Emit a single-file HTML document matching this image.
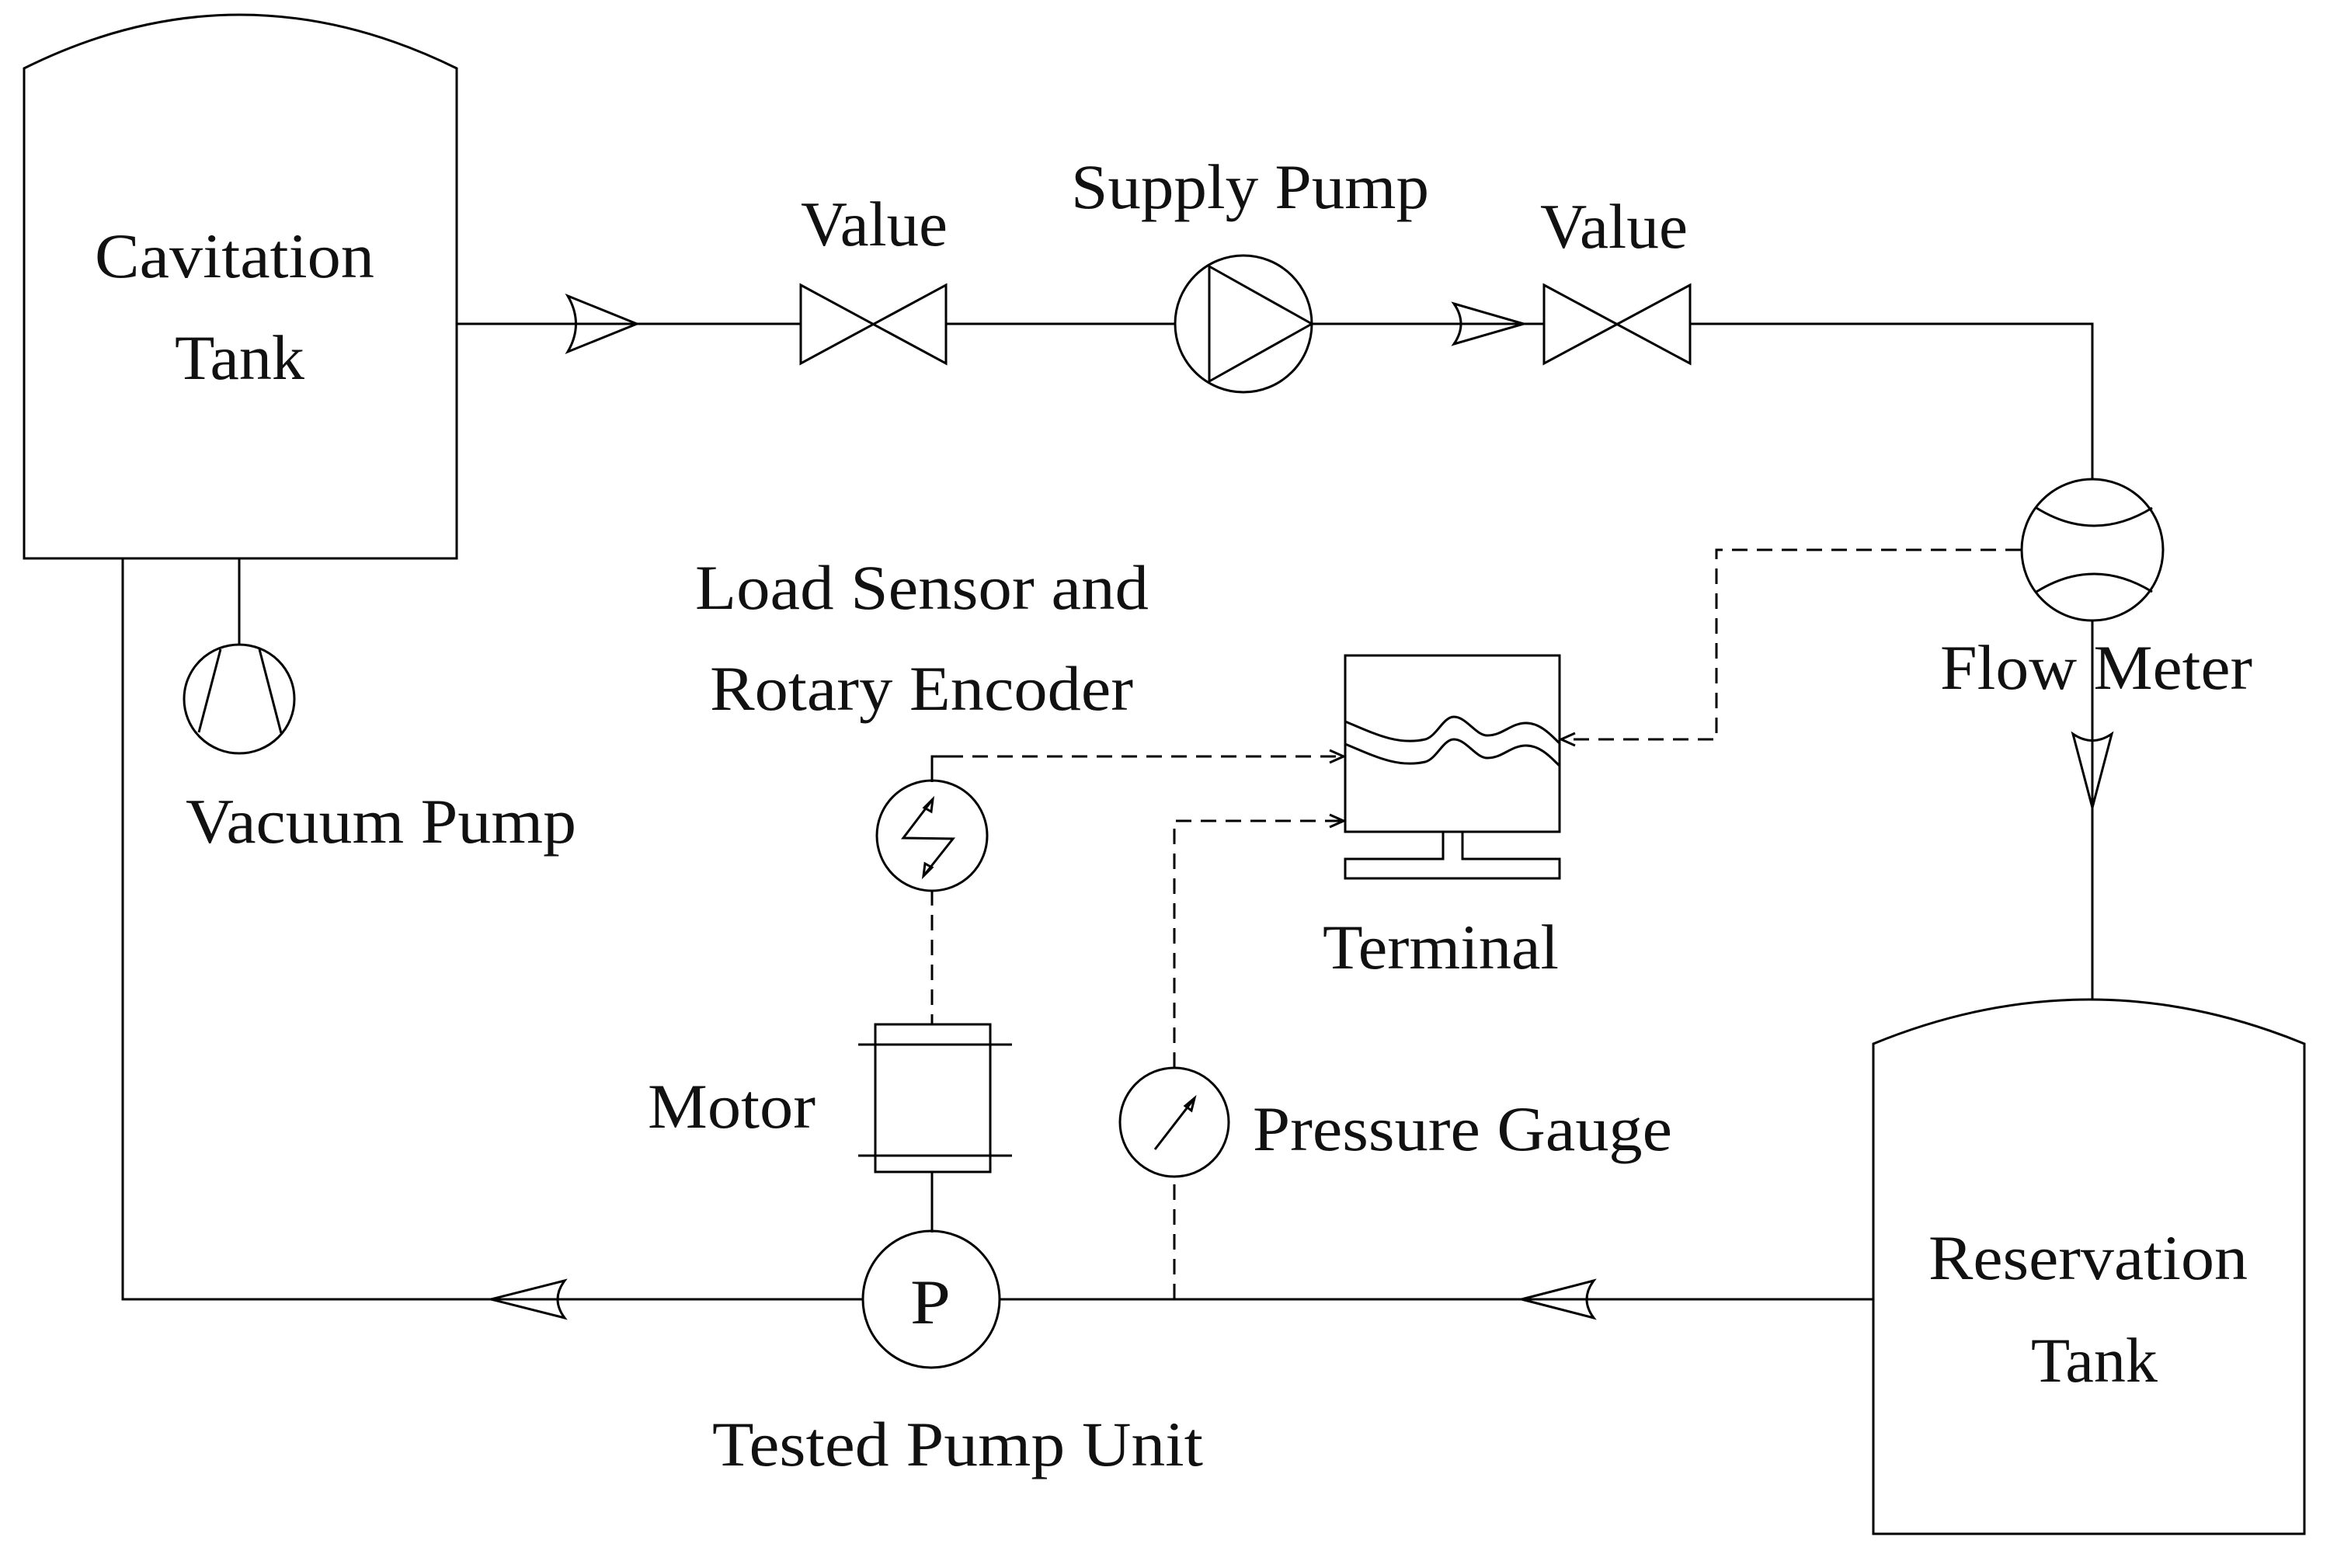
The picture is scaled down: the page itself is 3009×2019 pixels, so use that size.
<!DOCTYPE html>
<html><head><meta charset="utf-8"><style>
html,body{margin:0;padding:0;background:#fff}
svg{display:block}
text{font-family:"Liberation Serif",serif;fill:#111}
</style></head><body>
<svg width="3009" height="2019" viewBox="0 0 3009 2019" xmlns="http://www.w3.org/2000/svg">
<g fill="none" stroke="#000" stroke-width="3">
<!-- Cavitation tank -->
<path d="M31,719 L31,88 Q308,-50 588,88 L588,719 Z"/>
<!-- Vacuum pump -->
<line x1="308" y1="719" x2="308" y2="831"/>
<ellipse cx="308" cy="900" rx="71" ry="70"/>
<line x1="284" y1="836" x2="256" y2="943"/>
<line x1="334" y1="836" x2="362" y2="944"/>
<!-- left pipe & bottom pipe -->
<polyline points="158,719 158,1673 1110,1673"/>
<line x1="1287" y1="1673" x2="2412" y2="1673"/>
<!-- top pipe -->
<line x1="588" y1="417" x2="1031" y2="417"/>
<line x1="1218" y1="417" x2="1512" y2="417"/>
<line x1="1689" y1="417" x2="1988" y2="417"/>
<polyline points="2176,417 2694,417 2694,617"/>
<line x1="2694" y1="799" x2="2694" y2="1287"/>
<!-- arrows -->
<path d="M731,381 L820,417 L731,453 Q752,417 731,381 Z"/>
<path d="M1872,391 L1962,417 L1872,443 Q1890,417 1872,391 Z"/>
<path d="M2669,945 L2694,1040 L2719,945 Q2694,962 2669,945 Z"/>
<path d="M2052,1649 L1959,1673 L2052,1697 Q2034,1673 2052,1649 Z"/>
<path d="M727,1649 L632,1673 L727,1697 Q709,1673 727,1649 Z"/>
<!-- valves -->
<path d="M1031,367 L1218,468 L1218,367 L1031,468 Z"/>
<path d="M1988,367 L2176,468 L2176,367 L1988,468 Z"/>
<!-- supply pump -->
<circle cx="1601" cy="417" r="88"/>
<path d="M1557,343 L1689,417 L1557,491 Z"/>
<!-- flow meter -->
<circle cx="2694" cy="708" r="91"/>
<path d="M2622,654 Q2696,700 2771,654"/>
<path d="M2622,762 Q2696,716 2771,762"/>
<!-- reservation tank -->
<path d="M2412,1975 L2412,1344 Q2690,1230 2967,1344 L2967,1975 Z"/>
<!-- terminal -->
<rect x="1732" y="844" width="276" height="227"/>
<path d="M1732,929 C1770,945 1800,960 1835,952 C1850,948 1858,923 1872,923 C1888,923 1900,947 1915,947 C1935,947 1945,931 1965,931 C1985,931 2000,950 2008,957"/>
<path d="M1732,958 C1770,974 1800,989 1835,981 C1850,977 1858,952 1872,952 C1888,952 1900,976 1915,976 C1935,976 1945,960 1965,960 C1985,960 2000,979 2008,986"/>
<polyline points="1858,1071 1858,1106 1732,1106 1732,1131 2008,1131 2008,1106 1883,1106 1883,1071"/>
<!-- load sensor -->
<circle cx="1200" cy="1076" r="71"/>
<polyline points="1200,1007 1200,974 1220,974"/>
<polyline points="1201,1029 1163,1079 1227,1080 1189,1128"/>
<path d="M1201,1029 L1199,1045 L1190,1040 Z" />
<path d="M1189,1128 L1191,1112 L1200,1117 Z" />
<!-- motor -->
<rect x="1127" y="1319" width="148" height="190"/>
<line x1="1105" y1="1345" x2="1303" y2="1345"/>
<line x1="1105" y1="1488" x2="1303" y2="1488"/>
<line x1="1200" y1="1509" x2="1200" y2="1587"/>
<circle cx="1199" cy="1673" r="88"/>
<!-- pressure gauge -->
<circle cx="1512" cy="1445" r="70"/>
<line x1="1487" y1="1480" x2="1538" y2="1414"/>
<path d="M1538,1414 L1534,1430 L1526,1424 Z"/>
</g>
<!-- dashed signal lines -->
<g fill="none" stroke="#000" stroke-width="3" stroke-dasharray="20,12">
<polyline points="1220,974 1730,974"/>
<line x1="1200" y1="1146" x2="1200" y2="1319"/>
<polyline points="1512,1673 1512,1515"/>
<polyline points="1512,1375 1512,1057 1730,1057"/>
<polyline points="2602,708 2210,708 2210,952 2010,952"/>
</g>
<g fill="none" stroke="#000" stroke-width="3">
<polyline points="1712,966 1730,974 1712,982"/>
<polyline points="1712,1049 1730,1057 1712,1065"/>
<polyline points="2028,944 2010,952 2028,960"/>
</g>
<!-- labels -->
<g font-size="82">
<text x="122" y="357" textLength="360" lengthAdjust="spacingAndGlyphs">Cavitation</text>
<text x="225" y="488" textLength="167" lengthAdjust="spacingAndGlyphs">Tank</text>
<text x="1031" y="316" textLength="189" lengthAdjust="spacingAndGlyphs">Value</text>
<text x="1379" y="268" textLength="461" lengthAdjust="spacingAndGlyphs">Supply Pump</text>
<text x="1983" y="319" textLength="190" lengthAdjust="spacingAndGlyphs">Value</text>
<text x="895" y="784" textLength="584" lengthAdjust="spacingAndGlyphs">Load Sensor and</text>
<text x="914" y="914" textLength="545" lengthAdjust="spacingAndGlyphs">Rotary Encoder</text>
<text x="239" y="1085" textLength="503" lengthAdjust="spacingAndGlyphs">Vacuum Pump</text>
<text x="834" y="1452" textLength="216" lengthAdjust="spacingAndGlyphs">Motor</text>
<text x="1172" y="1704" textLength="52" lengthAdjust="spacingAndGlyphs">P</text>
<text x="917" y="1887" textLength="632" lengthAdjust="spacingAndGlyphs">Tested Pump Unit</text>
<text x="1703" y="1247" textLength="304" lengthAdjust="spacingAndGlyphs">Terminal</text>
<text x="1613" y="1481" textLength="540" lengthAdjust="spacingAndGlyphs">Pressure Gauge</text>
<text x="2498" y="887" textLength="402" lengthAdjust="spacingAndGlyphs">Flow Meter</text>
<text x="2483" y="1647" textLength="411" lengthAdjust="spacingAndGlyphs">Reservation</text>
<text x="2615" y="1779" textLength="163" lengthAdjust="spacingAndGlyphs">Tank</text>
</g>
</svg>
</body></html>
